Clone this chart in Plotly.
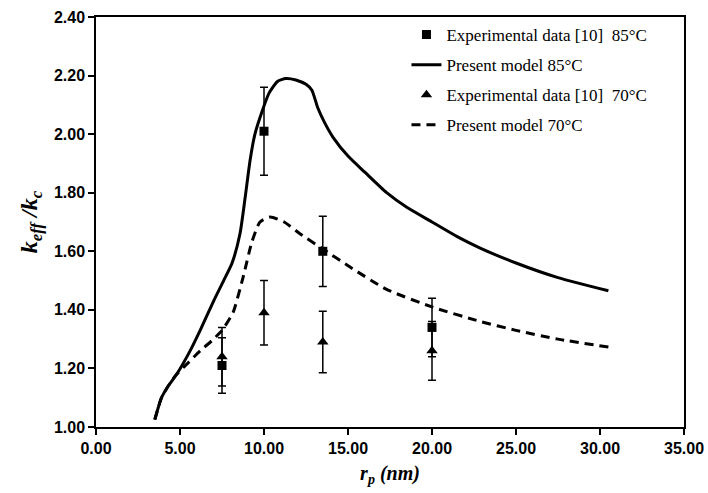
import plotly.graph_objects as go

# Experimental points (pore radius in nm, normalised conductivity)
exp_x = [7.5, 10.0, 13.5, 20.0]
exp85_y = [1.21, 2.01, 1.60, 1.34]
exp85_err = [0.095, 0.15, 0.12, 0.10]
exp70_y = [1.24, 1.39, 1.29, 1.26]
exp70_err = [0.10, 0.11, 0.105, 0.10]

# Present model, 85 °C
m85_x = [3.5, 3.9, 4.3, 4.8, 5.6, 6.2, 7.0, 7.6, 8.1, 8.57, 8.87, 9.17, 9.46, 9.9,
         10.3, 10.8, 11.3, 11.9, 12.5, 12.85, 13.2, 13.6, 14.1, 15.0, 16.0, 17.3,
         18.5, 20.0, 21.5, 22.9, 25.0, 27.5, 30.5]
m85_y = [1.025, 1.10, 1.14, 1.18, 1.26, 1.33, 1.43, 1.50, 1.56, 1.66, 1.78, 1.91, 2.00, 2.08,
         2.14, 2.18, 2.19, 2.185, 2.17, 2.15, 2.09, 2.04, 1.99, 1.925, 1.87, 1.80,
         1.75, 1.70, 1.65, 1.61, 1.56, 1.51, 1.465]

# Present model, 70 °C
m70_x = [3.5, 3.9, 4.3, 4.8, 5.5, 6.2, 7.0, 7.5, 8.15, 8.75, 9.27, 9.76, 10.36,
         11.2, 12.14, 13.5, 15.1, 17.3, 20.0, 22.9, 25.0, 27.5, 30.5]
m70_y = [1.025, 1.10, 1.14, 1.18, 1.22, 1.26, 1.30, 1.33, 1.39, 1.51, 1.63, 1.70, 1.717,
         1.70, 1.66, 1.608, 1.547, 1.47, 1.41, 1.36, 1.33, 1.30, 1.273]

x_ticks = [0, 5, 10, 15, 20, 25, 30, 35]
y_ticks = [1.0, 1.2, 1.4, 1.6, 1.8, 2.0, 2.2, 2.4]

serif = "Liberation Serif"
sans = "Liberation Sans"

fig = go.Figure()

fig.add_trace(go.Scatter(
    x=exp_x, y=exp85_y, mode="markers", name="Experimental data [10]  85°C",
    legendgroup="a",
    marker=dict(symbol="square", size=9, color="black"),
    error_y=dict(type="data", array=exp85_err, color="black", thickness=1.5, width=4),
))
fig.add_trace(go.Scatter(
    x=m85_x, y=m85_y, mode="lines", name="Present model 85°C",
    legendgroup="b",
    line=dict(color="black", width=3, shape="spline", smoothing=0.6),
))
fig.add_trace(go.Scatter(
    x=exp_x, y=exp70_y, mode="markers", name="Experimental data [10]  70°C",
    legendgroup="c",
    marker=dict(symbol="triangle-up", size=10, color="black"),
    error_y=dict(type="data", array=exp70_err, color="black", thickness=1.5, width=4),
))
fig.add_trace(go.Scatter(
    x=m70_x, y=m70_y, mode="lines", name="Present model 70°C",
    legendgroup="d",
    line=dict(color="black", width=3, dash="9px,6px", shape="spline", smoothing=0.6),
))

fig.update_layout(
    width=708, height=493,
    margin=dict(l=96, r=24, t=17, b=66),
    paper_bgcolor="white", plot_bgcolor="white",
    showlegend=True,
    legend=dict(
        x=0.528, y=1.0, xanchor="left", yanchor="top",
        bgcolor="rgba(0,0,0,0)", borderwidth=0,
        font=dict(family=serif, size=17, color="black"),
        traceorder="grouped", tracegroupgap=5,
        itemwidth=30,
    ),
    xaxis=dict(
        range=[0, 35], tickvals=x_ticks,
        ticktext=[f"{v:.2f}" for v in x_ticks],
        showgrid=False, zeroline=False, automargin=False,
        showline=True, linecolor="black", linewidth=1.5, mirror=True,
        ticks="outside", ticklen=6, tickwidth=1.5, tickcolor="black",
        tickfont=dict(family=sans, size=16, color="black", weight="bold"),
        title=dict(
            text="<i>r<sub>p</sub></i> <i>(nm)</i>",
            font=dict(family=serif, size=20, color="black", weight="bold"),
            standoff=10,
        ),
    ),
    yaxis=dict(
        range=[1.0, 2.4], tickvals=y_ticks,
        ticktext=[f"{v:.2f}" for v in y_ticks],
        showgrid=False, zeroline=False, automargin=False,
        showline=True, linecolor="black", linewidth=1.5, mirror=True,
        ticks="outside", ticklen=6, tickwidth=1.5, tickcolor="black",
        tickfont=dict(family=sans, size=16, color="black", weight="bold"),
        title=dict(
            text="<i>k<sub>eff</sub> /k<sub>c</sub></i>",
            font=dict(family=serif, size=24, color="black", weight="bold"),
            standoff=10,
        ),
    ),
)

fig.write_html("out.html")
